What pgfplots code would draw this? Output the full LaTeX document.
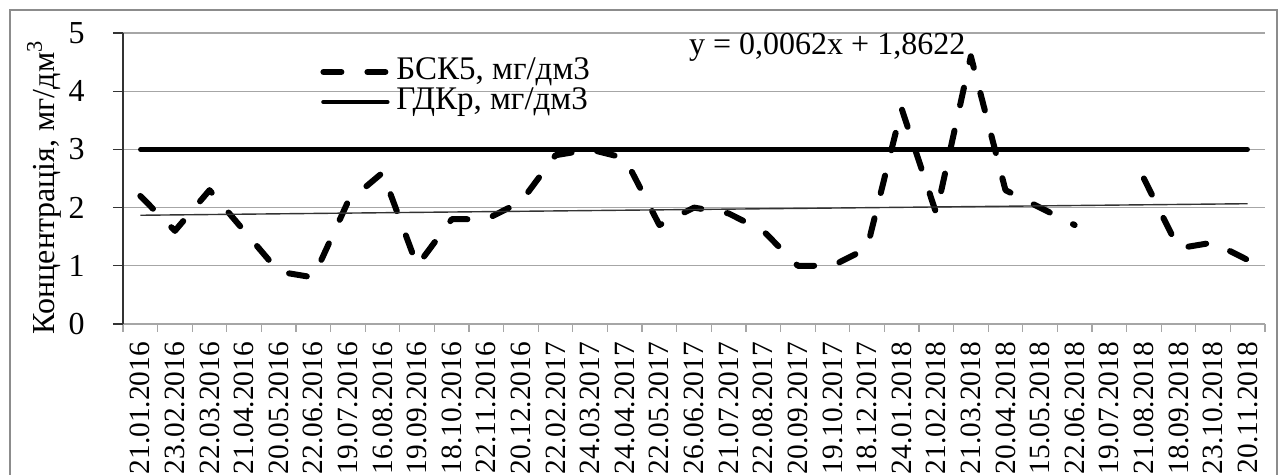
\documentclass[border=0pt]{standalone}
\usepackage{pgfplots}
\usepackage{pgfplotstable}
\pgfplotsset{compat=1.18}
\usepackage{fontspec}
\setmainfont{Liberation Serif}
\pgfplotstableread{
x y
0 2.2
1 1.6
2 2.3
3 1.6
4 0.9
5 0.8
6 2.1
7 2.6
8 1.0
9 1.8
10 1.8
11 2.1
12 2.9
13 3.0
14 2.85
15 1.7
16 2.0
17 1.9
18 1.6
19 1.0
20 1.0
21 1.3
22 3.7
23 1.9
24 4.6
25 2.3
26 2.0
27 1.7
28 nan
29 2.5
30 1.3
31 1.4
32 1.1
}\bsk
\begin{document}
\begin{tikzpicture}[font=\fontsize{16}{19}\selectfont]
\useasboundingbox (0,0) rectangle (639.5pt,237.5pt);
\draw[black!45, line width=0.75pt] (5pt,-20pt) rectangle (638.5pt,232.5pt);
\begin{axis}[
  at={(61.5pt,75.5pt)}, anchor=south west,
  scale only axis, width=571pt, height=145.5pt,
  xmin=-0.5, xmax=32.5, ymin=0, ymax=5,
  axis x line*=bottom, axis y line*=left,
  x axis line style={black!35, line width=0.6pt},
  y axis line style={black!80, line width=0.6pt},
  tick align=outside,
  xtick={0,...,32},
  xticklabels={21.01.2016,23.02.2016,22.03.2016,21.04.2016,20.05.2016,22.06.2016,19.07.2016,16.08.2016,19.09.2016,18.10.2016,22.11.2016,20.12.2016,22.02.2017,24.03.2017,24.04.2017,22.05.2017,26.06.2017,21.07.2017,22.08.2017,20.09.2017,19.10.2017,18.12.2017,24.01.2018,21.02.2018,21.03.2018,20.04.2018,15.05.2018,22.06.2018,19.07.2018,21.08.2018,18.09.2018,23.10.2018,20.11.2018},
  major x tick style={draw=none},
  minor xtick={-0.5,0.5,...,32.5},
  minor x tick style={black!35, line width=0.6pt},
  minor tick length=4pt,
  major tick length=5pt,
  ytick={0,...,5},
  y tick style={black!80, line width=0.6pt},
  x tick label style={rotate=90, anchor=east, inner sep=3.8pt, font=\fontsize{14.7}{17}\selectfont},
  y tick label style={inner sep=3pt, xshift=-11pt, font=\fontsize{16}{19}\selectfont},
  /pgf/number format/assume math mode=true,
  ymajorgrids,
  y grid style={black!35, line width=0.6pt},
  ylabel={Концентрація, мг/дм\textsuperscript{3}},
  ylabel style={at={(axis description cs:-0.069,0.47)}, anchor=center},
  clip=false,
  legend style={draw=none, fill=none, at={(axis description cs:0.1725,0.8144)}, anchor=west, inner sep=0pt, row sep=0pt,
    font=\fontsize{16.5}{19}\selectfont,
    nodes={inner sep=0pt, text height=11pt, text depth=4pt},
    /tikz/every odd column/.style={column sep=3pt}},
  legend cell align=left,
  legend image code/.code={\draw[#1] (0pt,0pt) -- (32pt,0pt);},
]
\addplot[black, line width=3pt, dash pattern=on 9pt off 13pt, line cap=round, line join=round, unbounded coords=jump] table[x=x,y=y]{\bsk};
\addlegendentry{БСК5, мг/дм3}
\addplot[black, line width=2.2pt, line cap=round] coordinates {(0,3) (32,3)};
\addlegendentry{ГДКр, мг/дм3}
\addplot[black!80, line width=0.7pt, forget plot] coordinates {(0,1.8684) (32,2.0668)};
\node at (axis cs:19.85,4.76) {y = 0,0062x  + 1,8622};
\end{axis}
\end{tikzpicture}
\end{document}
